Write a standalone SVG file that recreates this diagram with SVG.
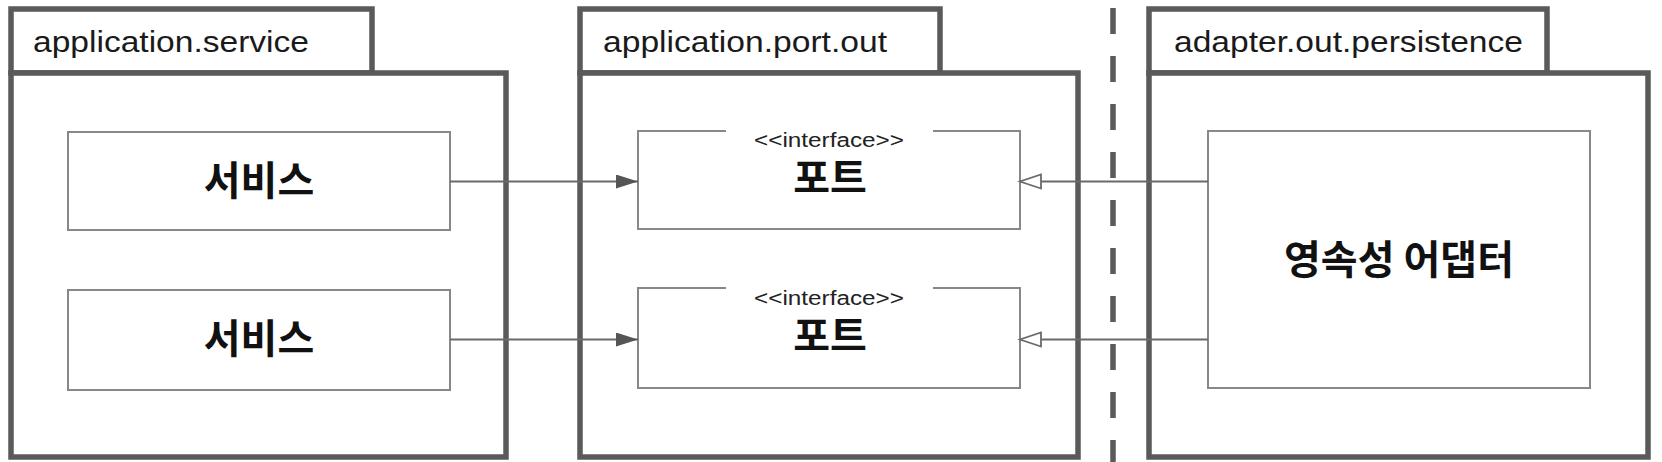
<svg xmlns="http://www.w3.org/2000/svg" width="1662" height="462" viewBox="0 0 1662 462">
  <style>
    .pkg { fill: #ffffff; stroke: #5a5a5a; stroke-width: 5.5; }
    .box { fill: #ffffff; stroke: #888888; stroke-width: 2; }
    .lbl { font-family: "Liberation Sans", Arial, sans-serif; font-size: 29px; fill: #1a1a1a; }
    .ster { font-family: "Liberation Sans", Arial, sans-serif; font-size: 20px; fill: #222222; }
    .kr { font-family: "Noto Sans CJK KR", "Noto Sans", sans-serif; font-size: 40px; font-weight: bold; fill: #111111; text-anchor: middle; }
    .conn { stroke: #6a6a6a; stroke-width: 1.8; fill: none; }
  </style>
  <defs>
    <marker id="filled" markerWidth="24" markerHeight="16" refX="22" refY="7" orient="auto" markerUnits="userSpaceOnUse">
      <path d="M0,0 L22,7 L0,14 Z" fill="#555555"/>
    </marker>
    <marker id="hollow" markerWidth="26" markerHeight="18" refX="22" refY="8" orient="auto" markerUnits="userSpaceOnUse">
      <path d="M1,1 L22,8 L1,15 Z" fill="#ffffff" stroke="#6a6a6a" stroke-width="1.8"/>
    </marker>
  </defs>

  <line x1="1113" y1="8" x2="1113" y2="462" stroke="#5a5a5a" stroke-width="5.5" stroke-dasharray="26 22"/>

  <g id="pkg-service">
    <rect class="pkg" x="11" y="9" width="361" height="64"/>
    <rect class="pkg" x="11" y="73" width="495" height="384"/>
    <text class="lbl" x="33" y="52" textLength="276" lengthAdjust="spacingAndGlyphs">application.service</text>
  </g>
  <g id="pkg-port">
    <rect class="pkg" x="580" y="9" width="360" height="64"/>
    <rect class="pkg" x="580" y="73" width="498" height="384"/>
    <text class="lbl" x="603" y="52" textLength="284" lengthAdjust="spacingAndGlyphs">application.port.out</text>
  </g>
  <g id="pkg-adapter">
    <rect class="pkg" x="1149" y="9" width="398" height="64"/>
    <rect class="pkg" x="1149" y="73" width="499" height="384"/>
    <text class="lbl" x="1174" y="52" textLength="349" lengthAdjust="spacingAndGlyphs">adapter.out.persistence</text>
  </g>

  <g id="service1">
    <rect class="box" x="68" y="132" width="382" height="98"/>
    <text class="kr" x="259" y="195">서비스</text>
  </g>
  <g id="service2">
    <rect class="box" x="68" y="290" width="382" height="100"/>
    <text class="kr" x="259" y="353">서비스</text>
  </g>
  <g id="port1">
    <rect x="638" y="131" width="382" height="98" fill="#ffffff" stroke="none"/>
    <path class="box" d="M726,131 L638,131 L638,229 L1020,229 L1020,131 L933,131" fill="none"/>
    <text class="ster" x="754" y="147" textLength="150" lengthAdjust="spacingAndGlyphs">&lt;&lt;interface&gt;&gt;</text>
    <text class="kr" x="830" y="192">포트</text>
  </g>
  <g id="port2">
    <rect x="638" y="288" width="382" height="100" fill="#ffffff" stroke="none"/>
    <path class="box" d="M726,288 L638,288 L638,388 L1020,388 L1020,288 L933,288" fill="none"/>
    <text class="ster" x="754" y="305" textLength="150" lengthAdjust="spacingAndGlyphs">&lt;&lt;interface&gt;&gt;</text>
    <text class="kr" x="830" y="350">포트</text>
  </g>
  <g id="adapter">
    <rect class="box" x="1208" y="131" width="382" height="257"/>
    <text class="kr" x="1399" y="274">영속성 어댑터</text>
  </g>

  <g id="connectors">
    <line class="conn" x1="450" y1="181.5" x2="638" y2="181.5" marker-end="url(#filled)"/>
    <line class="conn" x1="450" y1="339.5" x2="638" y2="339.5" marker-end="url(#filled)"/>
    <line class="conn" x1="1208" y1="181.5" x2="1020" y2="181.5" marker-end="url(#hollow)"/>
    <line class="conn" x1="1208" y1="339.5" x2="1020" y2="339.5" marker-end="url(#hollow)"/>
  </g>
</svg>
